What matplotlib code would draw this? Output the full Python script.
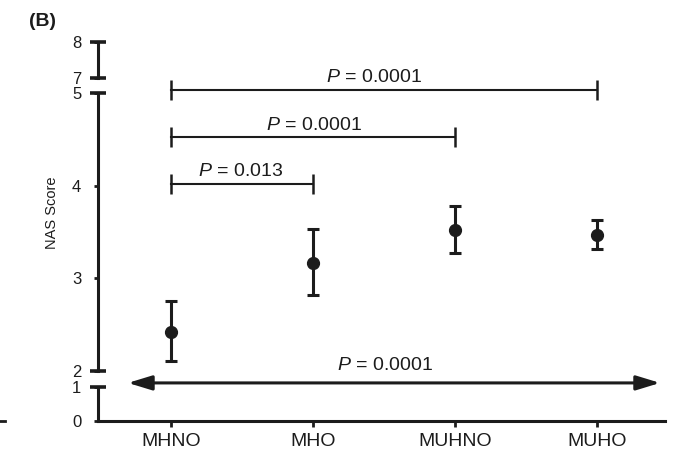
import matplotlib
matplotlib.use('Agg')
import matplotlib.pyplot as plt
from matplotlib.lines import Line2D
import matplotlib.transforms as mtransforms

plt.rcParams['font.family'] = ['Liberation Sans', 'DejaVu Sans']
plt.rcParams['mathtext.fontset'] = 'custom'
plt.rcParams['mathtext.rm'] = 'Liberation Sans'
plt.rcParams['mathtext.it'] = 'Liberation Sans:italic'

groups = ['MHNO', 'MHO', 'MUHNO', 'MUHO']
nas_mean = [2.42, 3.17, 3.52, 3.47]
nas_upper = [2.75, 3.53, 3.78, 3.63]
nas_lower = [2.11, 2.82, 3.27, 3.32]

# pairwise comparisons: (group a, group b, bar height, label x, p text)
comparisons = [(0, 1, 4.02, 0.49, '$P$ = 0.013'),
               (0, 2, 4.52, 1.01, '$P$ = 0.0001'),
               (0, 3, 5.03, 1.43, '$P$ = 0.0001')]
overall_p = '$P$ = 0.0001'

ink = '#1c1c1c'
W, H = 679, 454
fig = plt.figure(figsize=(W / 100, H / 100), dpi=100)

def px_axes(top_px, bottom_px):
    left, right = 98, 665
    return fig.add_axes([left / W, (H - bottom_px) / H,
                         (right - left) / W, (bottom_px - top_px) / H])

ax_bot = px_axes(381.9, 421)
ax_mid = px_axes(83.7, 371)
ax_top = px_axes(42, 78)

xlim = (-0.514, 3.479)
for ax in (ax_bot, ax_mid, ax_top):
    ax.set_xlim(*xlim)
    ax.patch.set_alpha(0)
    for s in ('top', 'right'):
        ax.spines[s].set_visible(False)
    ax.spines['left'].set_linewidth(2.2)
    ax.spines['left'].set_color(ink)
    ax.tick_params(axis='y', direction='out', length=3, width=2, colors=ink,
                   labelsize=12, pad=9)

ax_bot.set_ylim(0, 1.15)
ax_bot.spines['left'].set_bounds(0, 1)
ax_bot.set_yticks([0, 1])
ax_bot.spines['bottom'].set_linewidth(2.2)
ax_bot.spines['bottom'].set_color(ink)
ax_bot.set_xticks(range(len(groups)))
ax_bot.set_xticklabels(groups, fontsize=14)
ax_bot.tick_params(axis='x', direction='out', length=4, width=2, colors=ink,
                   pad=5)

ax_mid.set_ylim(2, 5.1)
ax_mid.spines['left'].set_bounds(2, 5)
ax_mid.set_yticks([2, 3, 4, 5])
ax_top.set_ylim(7, 8)
ax_top.spines['left'].set_bounds(7, 8)
ax_top.set_yticks([7, 8])
for ax in (ax_mid, ax_top):
    ax.spines['bottom'].set_visible(False)
    ax.set_xticks([])

# end caps on the broken axis segments
for ax, (lo, hi) in ((ax_bot, (0, 1)), (ax_mid, (2, 5)), (ax_top, (7, 8))):
    tr = mtransforms.blended_transform_factory(ax.transAxes, ax.transData)
    ends = [hi] if lo == 0 else [lo, hi]
    ax.plot([0] * len(ends), ends, ls='none', marker='_', ms=11, mew=2.6,
            color=ink, transform=tr, clip_on=False)

# means with error bars
x = list(range(len(groups)))
err = [[m - l for m, l in zip(nas_mean, nas_lower)],
       [u - m for m, u in zip(nas_mean, nas_upper)]]
ax_mid.errorbar(x, nas_mean, yerr=err, fmt='o', ms=8.5, color=ink,
                ecolor=ink, elinewidth=2.2, capsize=4.5, capthick=2.2)

# comparison brackets
for a, b, h, tx, label in comparisons:
    ax_mid.plot([a, b], [h, h], color=ink, lw=1.5, clip_on=False)
    ax_mid.plot([a, b], [h, h], ls='none', marker='|', ms=14, mew=1.8,
                color=ink, clip_on=False)
    ax_mid.text(tx, h + 0.085, label, ha='center', va='baseline',
                fontsize=14, color=ink, clip_on=False)

# overall comparison arrow
ax_bot.annotate('', xy=(-0.303, 1.12), xytext=(3.444, 1.12),
                arrowprops=dict(arrowstyle='<|-|>,head_length=0.72,head_width=0.22',
                                color=ink, lw=2.2, mutation_scale=20,
                                shrinkA=0, shrinkB=0),
                annotation_clip=False)
ax_bot.text(1.51, 1.5, overall_p, ha='center', va='baseline', fontsize=14,
            color=ink, clip_on=False)

fig.text(52 / W, 1 - 213 / H, 'NAS Score', rotation=90, ha='center',
         va='center', fontsize=10.5, color=ink)
fig.text(43 / W, 1 - 21 / H, '(B)', ha='center', va='center', fontsize=14,
         fontweight='bold', color=ink)
fig.add_artist(Line2D([0, 5 / W], [1 - 421 / H, 1 - 421 / H], color=ink,
                      lw=2))

fig.savefig('out.png', dpi=100)
